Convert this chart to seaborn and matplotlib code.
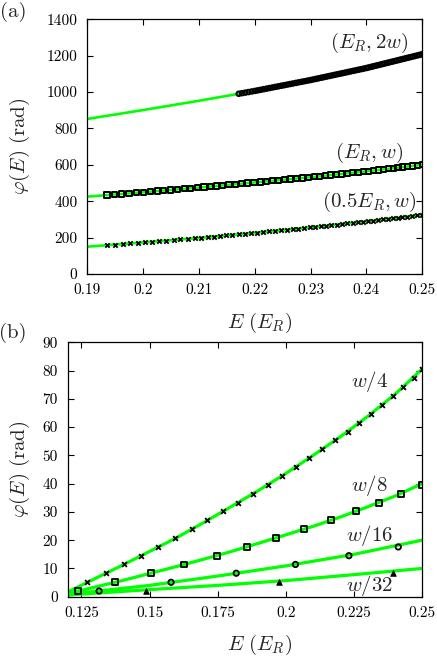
import matplotlib
matplotlib.use("Agg")
import matplotlib.pyplot as plt
import seaborn as sns

# ==============================================================================
# DATA PANEL (a)
# ==============================================================================
a_xticks = [0.19, 0.20, 0.21, 0.22, 0.23, 0.24, 0.25]
a_yticks = [0, 200, 400, 600, 800, 1000, 1200, 1400]

# green curves (analytic), read every 0.01
a_e_line = [0.19, 0.20, 0.21, 0.22, 0.23, 0.24, 0.25]
a_phi_2w_line = [852, 901, 952, 1006, 1066, 1132, 1208]
a_phi_w_line = [425, 449, 475, 503, 532, 564, 600]
a_phi_half_line = [150, 173, 198, 226, 256, 289, 325]

# (E_R, 2w) circles
a_e_2w = [0.21713, 0.2177, 0.2183, 0.21887, 0.21946,
          0.22003, 0.22055, 0.22108, 0.2216, 0.22213, 0.22265, 0.22318, 0.2237,
          0.22422, 0.22475, 0.22527, 0.2258, 0.22632, 0.22683, 0.22737, 0.22788,
          0.22842, 0.22893, 0.22947, 0.22998,
          0.23045, 0.23094, 0.23141, 0.23189, 0.23236, 0.23283, 0.23332, 0.23379,
          0.23427, 0.23474, 0.23523, 0.2357, 0.23617, 0.23665, 0.23712, 0.23761,
          0.23808, 0.23855, 0.23903, 0.2395, 0.23998,
          0.24039, 0.24082, 0.24122, 0.24163, 0.24205, 0.24246, 0.24288, 0.24329,
          0.2437, 0.24412, 0.24453, 0.24495, 0.24536, 0.24578, 0.24618, 0.24659,
          0.24701, 0.24742, 0.24784, 0.24825, 0.24866, 0.24908, 0.24949, 0.24991]
a_phi_2w = [990.5, 993.6, 996.8, 999.9, 1003.1,
            1006.2, 1009.3, 1012.5, 1015.6, 1018.8, 1021.9, 1025.1, 1028.2,
            1031.3, 1034.5, 1037.6, 1040.8, 1043.9, 1047.0, 1050.2, 1053.3,
            1056.5, 1059.6, 1062.8, 1065.9,
            1069.0, 1072.2, 1075.3, 1078.5, 1081.6, 1084.7, 1087.9, 1091.0,
            1094.2, 1097.3, 1100.5, 1103.6, 1106.7, 1109.9, 1113.0, 1116.2,
            1119.3, 1122.4, 1125.6, 1128.7, 1131.9,
            1135.0, 1138.2, 1141.3, 1144.4, 1147.6, 1150.7, 1153.9, 1157.0,
            1160.1, 1163.3, 1166.4, 1169.6, 1172.7, 1175.9, 1179.0, 1182.1,
            1185.3, 1188.4, 1191.6, 1194.7, 1197.8, 1201.0, 1204.1, 1207.3]

# (E_R, w) squares
a_e_w = [0.19354, 0.19483, 0.19617, 0.19746, 0.19879,
         0.20008, 0.20127, 0.2025, 0.20369, 0.20492, 0.20612, 0.20735, 0.20854, 0.20973,
         0.21089, 0.2120, 0.21314, 0.21425, 0.21539, 0.2165, 0.21761, 0.21875, 0.21986,
         0.22097, 0.22203, 0.2231, 0.22421, 0.22528, 0.22638, 0.22745, 0.22852, 0.22962,
         0.23063, 0.23163, 0.23259, 0.23359, 0.23456, 0.23553, 0.23653, 0.2375, 0.2385,
         0.23947,
         0.24039, 0.24128, 0.24214, 0.24303, 0.24389, 0.24478, 0.24564, 0.2465, 0.24739,
         0.24825, 0.24914, 0.25]
a_phi_w = [433.5, 436.6, 439.8, 442.9, 446.1,
           449.2, 452.3, 455.5, 458.6, 461.8, 464.9, 468.1, 471.2, 474.3,
           477.5, 480.6, 483.8, 486.9, 490.1, 493.2, 496.3, 499.5, 502.6,
           505.8, 508.9, 512.0, 515.2, 518.3, 521.5, 524.6, 527.7, 530.9,
           534.0, 537.2, 540.3, 543.5, 546.6, 549.7, 552.9, 556.0, 559.2, 562.3,
           565.4, 568.6, 571.7, 574.9, 578.0, 581.2, 584.3, 587.4, 590.6,
           593.7, 596.9, 600.0]

# (0.5E_R, w) crosses
a_e_half = [0.19361, 0.19496, 0.19635, 0.1977, 0.19909,
            0.2004, 0.20164, 0.20292, 0.20416, 0.20544, 0.20668, 0.20796, 0.2092,
            0.21039, 0.21154, 0.21264, 0.21379, 0.21489, 0.2160, 0.21714, 0.21825, 0.21939,
            0.22047, 0.22153, 0.22257, 0.2236, 0.22467, 0.2257, 0.22677, 0.2278, 0.22883,
            0.2299,
            0.23085, 0.23182, 0.23276, 0.23373, 0.23467, 0.23561, 0.23658, 0.23752, 0.23848,
            0.23942,
            0.24033, 0.24122, 0.24208, 0.24297, 0.24383, 0.24469, 0.24558, 0.24644, 0.24733,
            0.24819, 0.24908, 0.24994]
a_phi_half = [158.3, 161.4, 164.6, 167.7, 170.9,
              174.0, 177.1, 180.3, 183.4, 186.6, 189.7, 192.9, 196.0,
              199.1, 202.3, 205.4, 208.6, 211.7, 214.8, 218.0, 221.1, 224.3,
              227.4, 230.6, 233.7, 236.8, 240.0, 243.1, 246.3, 249.4, 252.5, 255.7,
              258.8, 262.0, 265.1, 268.3, 271.4, 274.5, 277.7, 280.8, 284.0, 287.1,
              290.2, 293.4, 296.5, 299.7, 302.8, 305.9, 309.1, 312.2, 315.4,
              318.5, 321.7, 324.8]

# ==============================================================================
# DATA PANEL (b)
# ==============================================================================
b_xticks = [0.125, 0.15, 0.175, 0.2, 0.225, 0.25]
b_yticks = [0, 10, 20, 30, 40, 50, 60, 70, 80, 90]

b_e_line = [0.12, 0.13, 0.14, 0.15, 0.16, 0.17, 0.18, 0.19, 0.20, 0.21, 0.22, 0.23, 0.24, 0.25]
b_phi_w4_line = [1.65, 6.4, 11.1, 16.0, 20.9, 26.3, 31.9, 37.6, 43.6, 50.0, 56.6, 63.8, 71.6, 80.6]
b_phi_w8_line = [1.1, 3.4, 5.7, 8.2, 10.7, 13.3, 16.0, 18.9, 21.9, 24.9, 28.2, 31.8, 35.6, 40.0]

b_e_line_short = [0.12, 0.15, 0.175, 0.2, 0.225, 0.25]
b_phi_w16_line = [0.8, 4.0, 7.3, 10.9, 15.0, 20.0]
b_phi_w32_line = [0.6, 2.5, 4.0, 5.7, 7.8, 10.0]

b_e_w4 = [0.1272, 0.1339, 0.1406, 0.1469, 0.1532, 0.1593, 0.1654, 0.1712, 0.1768,
          0.1826, 0.1881, 0.1933, 0.1987, 0.2037, 0.2085, 0.2132, 0.2181, 0.2226,
          0.2269, 0.2312, 0.2354, 0.2393, 0.2431, 0.2468, 0.2500]
b_phi_w4 = [5.1, 8.3, 11.4, 14.5, 17.6, 20.8, 23.9, 27.0, 30.2, 33.3, 36.4, 39.6,
            42.7, 45.9, 49.0, 52.1, 55.3, 58.4, 61.6, 64.7, 67.9, 71.0, 74.1, 77.3, 80.4]

b_e_w8 = [0.1239, 0.1374, 0.1504, 0.1628, 0.1746, 0.1857, 0.1964, 0.2067, 0.2165,
          0.2258, 0.2341, 0.2422, 0.2500]
b_phi_w8 = [2.0, 5.1, 8.3, 11.4, 14.5, 17.6, 20.8, 23.9, 27.0, 30.2, 33.3, 36.4, 39.6]

b_e_w16 = [0.1315, 0.1579, 0.1818, 0.2035, 0.2231, 0.2412]
b_phi_w16 = [2.0, 5.1, 8.3, 11.4, 14.5, 17.6]

b_e_w32 = [0.1486, 0.1975, 0.2392]
b_phi_w32 = [2.1, 5.2, 8.5]

# ==============================================================================
# STYLE
# ==============================================================================
sns.set_theme(style="ticks")
plt.rcParams['font.family'] = ['cmr10', 'DejaVu Serif']
plt.rcParams['mathtext.fontset'] = 'cm'
plt.rcParams['axes.unicode_minus'] = False
plt.rcParams['axes.formatter.use_mathtext'] = True

HIJAU = "#00ff00"
FS_TICK = 11
FS_LABEL = 15

fig = plt.figure(figsize=(4.37, 6.57), dpi=100)
ax_a = fig.add_axes([0.1998, 0.583, 0.7666, 0.3877])
ax_b = fig.add_axes([0.1549, 0.0918, 0.8114, 0.3872])


def gaya_sumbu(ax):
    ax.tick_params(direction="in", top=True, right=True, length=4, width=0.8,
                   pad=7, labelsize=FS_TICK, colors="black")
    for s in ax.spines.values():
        s.set_linewidth(0.9)
        s.set_color("black")
    ax.set_ylabel(r"$\varphi(E)\ (\mathrm{rad})$", fontsize=FS_LABEL)
    ax.set_xlabel(r"$E\ (E_R)$", fontsize=FS_LABEL)


def titik(ax, x, y, marker, s, lw, filled=False):
    if filled:
        sns.scatterplot(x=x, y=y, marker=marker, s=s, color="black",
                        edgecolor="black", linewidth=lw, ax=ax, zorder=3)
    elif marker == "x":
        sns.scatterplot(x=x, y=y, marker=marker, s=s, color="black",
                        linewidth=lw, ax=ax, zorder=3)
    else:
        sns.scatterplot(x=x, y=y, marker=marker, s=s, color="black",
                        facecolors="none", edgecolor="black", linewidth=lw,
                        ax=ax, zorder=3)


# ------------------------------------------------------------------------------
# PANEL (a)
# ------------------------------------------------------------------------------
for yy in [a_phi_2w_line, a_phi_w_line, a_phi_half_line]:
    sns.lineplot(x=a_e_line, y=yy, color=HIJAU, linewidth=1.9, ax=ax_a,
                 sort=False, estimator=None, zorder=2)
titik(ax_a, a_e_2w, a_phi_2w, "o", 11, 1.4)
titik(ax_a, a_e_w, a_phi_w, "s", 14, 1.4)
titik(ax_a, a_e_half, a_phi_half, "x", 10, 1.3)

ax_a.set_xlim(0.19, 0.25)
ax_a.set_ylim(0, 1400)
ax_a.set_xticks(a_xticks)
ax_a.set_xticklabels([f"{t:g}" for t in a_xticks])
ax_a.set_yticks(a_yticks)
ax_a.set_yticklabels([f"{t:g}" for t in a_yticks])
gaya_sumbu(ax_a)
ax_a.yaxis.set_label_coords(-0.165, 0.5)
ax_a.xaxis.set_label_coords(0.514, -0.145)

ax_a.text(0.2405, 1270, r"$(E_R,2w)$", fontsize=FS_LABEL, ha="center", va="center")
ax_a.text(0.2405, 665, r"$(E_R,w)$", fontsize=FS_LABEL, ha="center", va="center")
ax_a.text(0.2405, 396, r"$(0.5E_R,w)$", fontsize=FS_LABEL, ha="center", va="center")

# ------------------------------------------------------------------------------
# PANEL (b)
# ------------------------------------------------------------------------------
sns.lineplot(x=b_e_line, y=b_phi_w4_line, color=HIJAU, linewidth=2.3, ax=ax_b,
             sort=False, estimator=None, zorder=2)
sns.lineplot(x=b_e_line, y=b_phi_w8_line, color=HIJAU, linewidth=2.3, ax=ax_b,
             sort=False, estimator=None, zorder=2)
sns.lineplot(x=b_e_line_short, y=b_phi_w16_line, color=HIJAU, linewidth=2.3, ax=ax_b,
             sort=False, estimator=None, zorder=2)
sns.lineplot(x=b_e_line_short, y=b_phi_w32_line, color=HIJAU, linewidth=2.3, ax=ax_b,
             sort=False, estimator=None, zorder=2)
titik(ax_b, b_e_w4, b_phi_w4, "x", 12, 1.3)
titik(ax_b, b_e_w8, b_phi_w8, "s", 18, 1.3)
titik(ax_b, b_e_w16, b_phi_w16, "o", 15, 1.3)
titik(ax_b, b_e_w32, b_phi_w32, "^", 16, 0.6, filled=True)

ax_b.set_xlim(0.12, 0.25)
ax_b.set_ylim(0, 90)
ax_b.set_xticks(b_xticks)
ax_b.set_xticklabels([f"{t:g}" for t in b_xticks])
ax_b.set_yticks(b_yticks)
ax_b.set_yticklabels([f"{t:g}" for t in b_yticks])
gaya_sumbu(ax_b)
ax_b.yaxis.set_label_coords(-0.101, 0.5)
ax_b.xaxis.set_label_coords(0.541, -0.143)

ax_b.text(0.2308, 76.0, r"$w/4$", fontsize=FS_LABEL, ha="center", va="center")
ax_b.text(0.2308, 39.5, r"$w/8$", fontsize=FS_LABEL, ha="center", va="center")
ax_b.text(0.2308, 21.5, r"$w/16$", fontsize=FS_LABEL, ha="center", va="center")
ax_b.text(0.2308, 4.1, r"$w/32$", fontsize=FS_LABEL, ha="center", va="center")

fig.text(13 / 437, 1 - 12 / 657, "(a)", fontsize=FS_LABEL, ha="center", va="center")
fig.text(13 / 437, 1 - 333 / 657, "(b)", fontsize=FS_LABEL, ha="center", va="center")

fig.savefig("out.png", dpi=100)
